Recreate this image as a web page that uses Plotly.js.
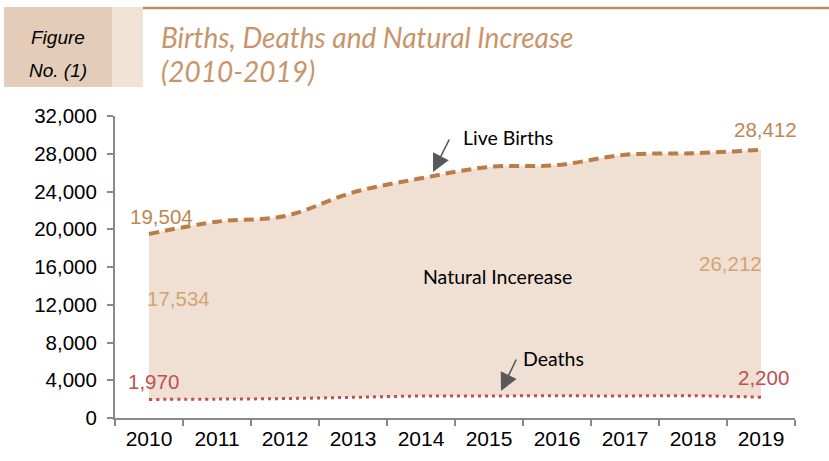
<!DOCTYPE html>
<html>
<head>
<meta charset="utf-8">
<script src="https://cdn.plot.ly/plotly-3.0.1.min.js"></script>
<style>html,body{margin:0;padding:0;background:#fff;}#chart{width:829px;height:461px;}</style>
</head>
<body>
<div id="chart"></div>
<script>
var years = ['2010','2011','2012','2013','2014','2015','2016','2017','2018','2019'];
var births = [19504, 20800, 21400, 23900, 25400, 26600, 26800, 27900, 28050, 28412];
var deaths = [1970, 2000, 2060, 2190, 2330, 2340, 2350, 2340, 2360, 2200];
var yTicks = [0, 4000, 8000, 12000, 16000, 20000, 24000, 28000, 32000];

var W = 829, H = 461;
var L = 115, R = 795, T = 116, B = 418;
function px(x){ return (x - L) / (R - L); }
function py(y){ return (B - y) / (B - T); }
function fmt(v){ return v.toLocaleString('en-US'); }
var last = years.length - 1;
var natFirst = births[0] - deaths[0];
var natLast = births[last] - deaths[last];

var traces = [
  {x: years, y: deaths, type: 'scatter', mode: 'lines',
   line: {color: '#c0504d', width: 3, dash: '3px,4px', shape: 'spline'},
   hoverinfo: 'skip', showlegend: false},
  {x: years, y: births, type: 'scatter', mode: 'lines', fill: 'tonexty',
   fillcolor: '#efe0d3',
   line: {color: '#bb7d45', width: 4, dash: '10px,6px', shape: 'spline'},
   hoverinfo: 'skip', showlegend: false}
];

var lab = {family: 'Liberation Sans, Arial, sans-serif', size: 20.5};
var cal = {family: 'Lato, sans-serif', size: 19.5, color: '#000'};

function ann(x, y, text, font, xa){
  return {xref:'paper', yref:'paper', x: px(x), y: py(y), text: text, showarrow:false,
    xanchor: xa || 'center', yanchor: 'middle', font: font};
}

var annotations = [
  ann(161, 216, fmt(births[0]), Object.assign({}, lab, {color:'#c08650'})),
  ann(178, 298, fmt(natFirst), Object.assign({}, lab, {color:'#d4a373'})),
  ann(153, 381, fmt(deaths[0]), Object.assign({}, lab, {color:'#c0504d'})),
  ann(765, 129, fmt(births[last]), Object.assign({}, lab, {color:'#c08650'})),
  ann(730, 263, fmt(natLast), Object.assign({}, lab, {color:'#d4a373'})),
  ann(763, 377, fmt(deaths[last]), Object.assign({}, lab, {color:'#c0504d'})),
  ann(461, 137, 'Live Births', cal, 'left'),
  ann(497, 276, 'Natural Incerease', cal),
  ann(521, 358, 'Deaths', cal, 'left'),
  {xref:'paper', yref:'paper', x: px(433), y: py(172), text: '', showarrow:true, arrowhead:2, arrowsize:2.2, arrowwidth:1.6, arrowcolor:'#595959', ax: 17, ay: -34, standoff:0},
  {xref:'paper', yref:'paper', x: px(501), y: py(391), text: '', showarrow:true, arrowhead:2, arrowsize:2.2, arrowwidth:1.6, arrowcolor:'#595959', ax: 16, ay: -33, standoff:0},
  ann(58, 37, '<i>Figure</i>', {family:'Liberation Sans, Arial, sans-serif', size:19, color:'#000'}),
  ann(58, 70, '<i>No. (1)</i>', {family:'Liberation Sans, Arial, sans-serif', size:19, color:'#000'}),
  ann(159, 37, '<i>Births, Deaths and Natural Increase</i>', {family:'Lato, sans-serif', size:28, color:'#c8956a'}, 'left'),
  ann(159, 71, '<i>(2010-2019)</i>', {family:'Lato, sans-serif', size:28, color:'#c8956a'}, 'left')
];

var shapes = [
  {type:'rect', xref:'paper', yref:'paper', x0: px(4), x1: px(112), y0: py(87), y1: py(7), fillcolor:'#e3cdb9', line:{width:0}, layer:'below'},
  {type:'rect', xref:'paper', yref:'paper', x0: px(112), x1: px(143), y0: py(87), y1: py(7), fillcolor:'#f0e2d5', line:{width:0}, layer:'below'},
  {type:'line', xref:'paper', yref:'paper', x0: px(143), x1: px(829), y0: py(8), y1: py(8), line:{color:'#c0895a', width:2.5}}
];

var layout = {
  width: W, height: H,
  margin: {l: L, r: W - R, t: T, b: H - B, pad: 0},
  paper_bgcolor: '#fff', plot_bgcolor: '#fff',
  showlegend: false,
  xaxis: {type:'category', range:[-0.5, 9.5], showgrid:false, zeroline:false,
    showline:true, linecolor:'#898989', linewidth:2,
    ticks:'outside', tickson:'boundaries', ticklen:6, tickwidth:2, tickcolor:'#898989',
    tickfont:{family:'Liberation Sans, Arial, sans-serif', size:21, color:'#000'}, ticklabelstandoff: 1},
  yaxis: {range:[0, 32000], tickvals: yTicks, ticktext: yTicks.map(fmt), showgrid:false, zeroline:false,
    showline:true, linecolor:'#898989', linewidth:2,
    ticks:'outside', ticklen:6, tickwidth:2, tickcolor:'#898989',
    tickfont:{family:'Liberation Sans, Arial, sans-serif', size:20.5, color:'#000'}, ticklabelstandoff: 6},
  annotations: annotations,
  shapes: shapes
};

Plotly.newPlot('chart', traces, layout, {staticPlot:true, displayModeBar:false});
</script>
</body>
</html>
